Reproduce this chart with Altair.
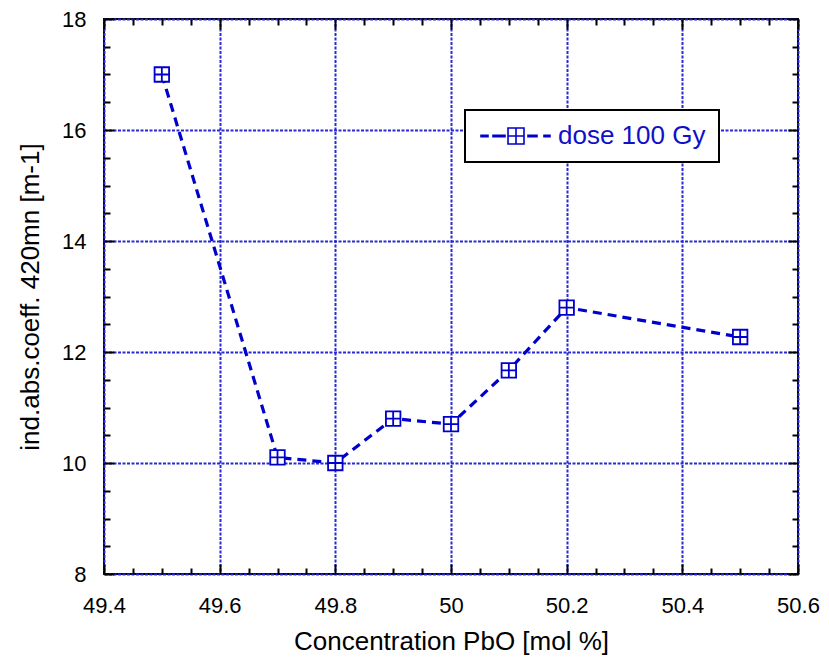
import altair as alt
import pandas as pd

# ---- data ----
conc = [49.5, 49.7, 49.8, 49.9, 50.0, 50.1, 50.2, 50.5]
coeff = [17.0, 10.1, 10.0, 10.8, 10.7, 11.67, 12.8, 12.27]
series = ["dose 100 Gy"] * len(conc)

x_major = [49.4, 49.6, 49.8, 50.0, 50.2, 50.4, 50.6]
x_minor = [49.45, 49.5, 49.55, 49.65, 49.7, 49.75, 49.85, 49.9, 49.95,
           50.05, 50.1, 50.15, 50.25, 50.3, 50.35, 50.45, 50.5, 50.55]
y_major = [8, 10, 12, 14, 16, 18]
y_minor = [8.5, 9, 9.5, 10.5, 11, 11.5, 12.5, 13, 13.5, 14.5, 15, 15.5,
           16.5, 17, 17.5]

df = pd.DataFrame({"conc": conc, "coeff": coeff, "series": series})

BLUE = "#0000cc"
GRID = "#2a2ad0"
FONT = "Liberation Sans"

marker = "M-1,-1H1V1H-1Z M0,-1V1 M-1,0H1"
legend_symbol = ("M-1,-0.075H-0.3V0.075H-1Z M0.2,-0.075H1.4V0.075H0.2Z "
                 "M1.7,-0.8H3.3V0.8H1.7Z M2.5,-0.8V0.8 M1.7,0H3.3 "
                 "M3.7,-0.075H4.6V0.075H3.7Z M5.3,-0.075H5.9V0.075H5.3Z")

xs = alt.Scale(domain=[49.4, 50.6], nice=False, zero=False)
ys = alt.Scale(domain=[8, 18], nice=False, zero=False)


def tick_axis(orient, values, size):
    return alt.Axis(orient=orient, values=values, offset=-size, tickSize=size,
                    tickColor="black", tickWidth=2, labels=False,
                    grid=False, domain=False, title=None)


base = alt.Chart(df)

line = base.mark_line(color=BLUE, strokeWidth=3.2, strokeDash=[9, 6],
                      interpolate="linear").encode(
    x=alt.X("conc:Q", scale=xs,
            axis=alt.Axis(orient="bottom", values=x_major, tickSize=0,
                          format="~g",
                          domain=False, grid=True, gridColor=GRID,
                          gridDash=[3, 1.5], gridWidth=2,
                          labelFont=FONT, labelFontSize=22, labelColor="black",
                          labelPadding=21, title="Concentration PbO [mol %]",
                          titleFont=FONT, titleFontSize=26,
                          titleFontWeight="normal", titleColor="black",
                          titlePadding=12, labelFlush=False)),
    y=alt.Y("coeff:Q", scale=ys,
            axis=alt.Axis(orient="left", values=y_major, tickSize=0,
                          format="~g",
                          domain=False, grid=True, gridColor=GRID,
                          gridDash=[3, 1.5], gridWidth=2,
                          labelFont=FONT, labelFontSize=22, labelColor="black",
                          labelPadding=18, title="ind.abs.coeff. 420mn [m-1]",
                          titleFont=FONT, titleFontSize=26,
                          titleFontWeight="normal", titleColor="black",
                          titlePadding=18, labelFlush=False)),
)

points = base.mark_point(shape=marker, size=210, strokeWidth=1.8, fill="white",
                         fillOpacity=1, opacity=1).encode(
    x=alt.X("conc:Q", scale=xs, axis=tick_axis("bottom", x_major, 10)),
    y=alt.Y("coeff:Q", scale=ys, axis=tick_axis("left", y_major, 10)),
    color=alt.Color("series:N", scale=alt.Scale(range=[BLUE]),
                    legend=alt.Legend(orient="none", legendX=361, legendY=91,
                                      title=None, symbolType=legend_symbol,
                                      symbolSize=400, symbolStrokeWidth=1.6,
                                      symbolFillColor="white",
                                      symbolStrokeColor=BLUE,
                                      labelFont=FONT, labelFontSize=26,
                                      labelColor="#1010c8", labelOffset=54,
                                      padding=13, fillColor="white",
                                      strokeColor="black")),
)

ghost = base.mark_point(opacity=0)

minor_bl = ghost.encode(
    x=alt.X("conc:Q", scale=xs, axis=tick_axis("bottom", x_minor, 6)),
    y=alt.Y("coeff:Q", scale=ys, axis=tick_axis("left", y_minor, 6)),
)
major_tr = ghost.encode(
    x=alt.X("conc:Q", scale=xs, axis=tick_axis("top", x_major, 10)),
    y=alt.Y("coeff:Q", scale=ys, axis=tick_axis("right", y_major, 10)),
)
minor_tr = ghost.encode(
    x=alt.X("conc:Q", scale=xs, axis=tick_axis("top", x_minor, 6)),
    y=alt.Y("coeff:Q", scale=ys, axis=tick_axis("right", y_minor, 6)),
)

chart = alt.layer(line, minor_bl, major_tr, minor_tr, points).resolve_scale(
    x="independent", y="independent"
).resolve_axis(
    x="independent", y="independent"
).properties(
    width=694, height=555, autosize="none",
    padding={"left": 104, "top": 19, "right": 31, "bottom": 89},
    background="white",
).configure_view(
    stroke="black", strokeWidth=2
).configure_legend(
    strokeWidth=2
)

chart.save("out.html", embed_options={"renderer": "svg", "actions": False})
